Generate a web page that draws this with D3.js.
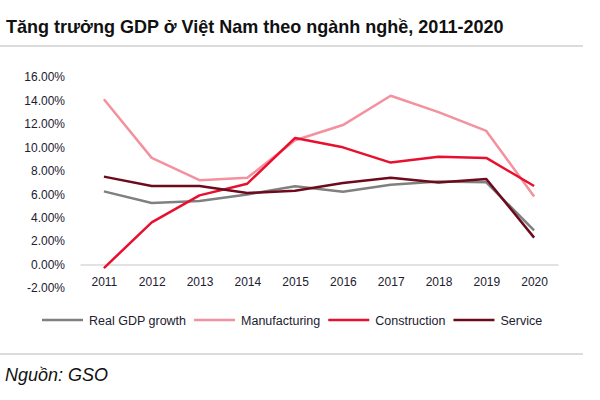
<!DOCTYPE html>
<html lang="vi">

<head>
  <meta charset="UTF-8" />
  <title>Tăng trưởng GDP ở Việt Nam theo ngành nghề</title>
  <script src="https://d3js.org/d3.v7.min.js"></script>
  <style>
    body {
      margin: 0;
      background: #fff;
      font-family: "Liberation Sans", Arial, sans-serif;
    }

    .tick text {
      fill: #1c2030;
      font-size: 12px;
      font-family: "Liberation Sans", Arial, sans-serif;
    }

    .legend text {
      fill: #1c2030;
      font-size: 12.5px;
    }
  </style>
</head>

<body>
  <svg width="600" height="400"></svg>

  <script>
    // data (% growth)
    const years = ["2011", "2012", "2013", "2014", "2015", "2016", "2017", "2018", "2019", "2020"];
    const realGdp = [6.24, 5.25, 5.42, 5.98, 6.68, 6.21, 6.81, 7.08, 7.02, 2.91];
    const manufacturing = [14.1, 9.1, 7.2, 7.4, 10.6, 11.9, 14.4, 13.0, 11.4, 5.8];
    const construction = [-0.3, 3.6, 5.9, 6.9, 10.8, 10.0, 8.7, 9.2, 9.1, 6.7];
    const service = [7.5, 6.7, 6.7, 6.1, 6.3, 6.95, 7.4, 7.0, 7.3, 2.3];
    const yTicks = [-2, 0, 2, 4, 6, 8, 10, 12, 14, 16];

    const seriesNames = ["Real GDP growth", "Manufacturing", "Construction", "Service"];
    const seriesValues = [realGdp, manufacturing, construction, service];
    const seriesColors = ["#808080", "#f4919e", "#e8102e", "#6d0a1c"];

    const svg = d3.select("svg");

    // title + rules
    const title = svg.append("text")
      .attr("x", 6)
      .attr("y", 33)
      .attr("font-weight", "bold")
      .attr("font-size", 16)
      .attr("fill", "#111")
      .text("Tăng trưởng GDP ở Việt Nam theo ngành nghề, 2011-2020");
    // squeeze/stretch font size so the title spans like the original
    const tw = title.node().getComputedTextLength();
    title.attr("font-size", 16 * 498 / tw);

    svg.append("line")
      .attr("x1", 0).attr("x2", 583)
      .attr("y1", 46).attr("y2", 46)
      .attr("stroke", "#cfcfcf").attr("stroke-width", 1.5);

    svg.append("line")
      .attr("x1", 0).attr("x2", 583)
      .attr("y1", 354).attr("y2", 354)
      .attr("stroke", "#cfcfcf").attr("stroke-width", 1.5);

    const src = svg.append("text")
      .attr("x", 5)
      .attr("y", 381)
      .attr("font-style", "italic")
      .attr("font-size", 16)
      .attr("fill", "#111")
      .text("Nguồn: GSO");
    const sw = src.node().getComputedTextLength();
    src.attr("font-size", Math.min(18, 16 * 103 / sw));

    // scales
    const x = d3.scalePoint()
      .domain(years)
      .range([80, 558])
      .padding(0.5);

    const y = d3.scaleLinear()
      .domain([-2, 16])
      .range([288, 77]);

    // y axis (labels only)
    svg.append("g")
      .attr("transform", "translate(80,0)")
      .call(d3.axisLeft(y)
        .tickValues(yTicks)
        .tickSize(0)
        .tickPadding(15)
        .tickFormat(d => d.toFixed(2) + "%"))
      .call(g => g.select(".domain").remove());

    // x axis sits on the zero line
    const xAxis = svg.append("g")
      .attr("transform", `translate(0,${y(0)})`)
      .call(d3.axisBottom(x).tickSize(0).tickPadding(13));
    xAxis.select(".domain")
      .attr("stroke", "#d9d9d9")
      .attr("stroke-width", 1.5);

    // lines
    const line = d3.line()
      .x((d, i) => x(years[i]))
      .y(d => y(d));

    svg.append("g")
      .selectAll("path")
      .data(seriesValues)
      .join("path")
      .attr("fill", "none")
      .attr("stroke", (d, i) => seriesColors[i])
      .attr("stroke-width", 2.5)
      .attr("stroke-linejoin", "round")
      .attr("d", line);

    // legend
    const legend = svg.append("g").attr("class", "legend");
    let lx = 42;
    seriesNames.forEach((name, i) => {
      legend.append("line")
        .attr("x1", lx).attr("x2", lx + 41)
        .attr("y1", 320).attr("y2", 320)
        .attr("stroke", seriesColors[i])
        .attr("stroke-width", 2.5);
      const t = legend.append("text")
        .attr("x", lx + 47)
        .attr("y", 324.5)
        .text(name);
      lx += 47 + t.node().getComputedTextLength() + 8;
    });
  </script>

</body>

</html>
